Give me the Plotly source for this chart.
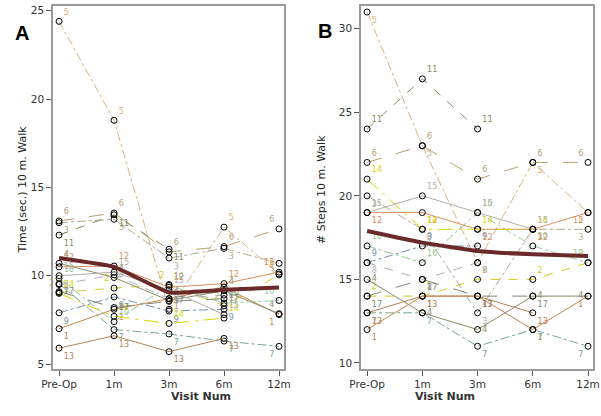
import plotly.graph_objects as go

visits = ["Pre-Op", "1m", "3m", "6m", "12m"]
patients = [1, 2, 3, 4, 5, 6, 7, 8, 9, 10, 11, 12, 13, 14, 15, 17]

# Panel A: Time (sec.) 10 m. walk, one list per visit, ordered as `patients`
time_pre = [7.0, 9.05, 13.0, 10.7, 24.4, 13.1, 9.55, 9.5, 7.9, 9.85, 12.3, 10.5, 5.9, 9.0, 10.0, 9.1]
time_1m = [8.1, 9.3, 13.2, 9.9, 18.8, 13.55, 6.95, 10.05, 8.8, 7.4, 13.45, 10.55, 6.6, 7.7, 10.2, 8.2]
time_3m = [8.7, 9.5, 11.0, 8.6, 8.1, 11.35, 6.7, 8.7, 8.0, 9.45, 11.5, 9.35, 5.7, 7.3, 9.2, 8.55]
time_6m = [9.35, 8.3, 11.55, 9.15, 12.75, 11.65, 6.3, 8.9, 8.1, 8.45, None, 9.55, 6.45, 7.6, 7.8, 8.7]
time_12m = [7.8, 10.05, 10.7, 7.85, 10.1, 12.65, 6.0, None, None, 8.6, None, 10.2, None, None, None, None]
time_mean = [11.0, 10.5, 9.05, 9.2, 9.33]

# Panel B: # steps 10 m. walk
steps_pre = [12, 14, 20, 15, 31, 22, 13, 16, 16, 17, 24, 19, 13, 21, 19, 14]
steps_1m = [14, 14, 18, 13, 23, 23, 13, 15, 17, 16, 27, 19, 14, 18, 20, 15]
steps_3m = [14, 15, 13, 12, 16, 21, 11, 16, 17, 19, 24, 18, 14, 18, 19, 14]
steps_6m = [12, 15, 18, 14, 22, 22, 12, None, None, 17, None, 18, 13, 18, 18, 14]
steps_12m = [14, 16, 18, 14, 19, 22, 11, None, None, 16, None, 19, None, None, None, None]
steps_mean = [17.9, 17.2, 16.7, 16.5, 16.4]

colors = {1: "#c8864a", 2: "#d4cc20", 3: "#b4aa90", 4: "#8a8a6a", 5: "#dcb080",
          6: "#b8a070", 7: "#78a890", 8: "#a8b0bc", 9: "#7890a8", 10: "#98c898",
          11: "#8a8a60", 12: "#d89060", 13: "#b88050", 14: "#d8d800", 15: "#b0b0a8",
          17: "#808878"}
dashes = {1: "solid", 2: "dash", 3: "dashdot", 4: "solid", 5: "dashdot", 6: "longdash",
          7: "dashdot", 8: "dash", 9: "dashdot", 10: "dashdot", 11: "dash", 12: "solid",
          13: "solid", 14: "longdashdot", 15: "solid", 17: "longdash"}
text_pos_a = {1: "bottom right", 2: "top left", 3: "bottom right", 4: "top right", 5: "top right",
              6: "top right", 7: "bottom right", 8: "middle right", 9: "bottom right", 10: "top right",
              11: "bottom right", 12: "top right", 13: "bottom right", 14: "top right", 15: "top right",
              17: "middle right"}
text_pos_b = {1: "bottom right", 2: "top right", 3: "bottom right", 4: "middle right", 5: "bottom right",
              6: "top right", 7: "bottom right", 8: "bottom right", 9: "top right", 10: "top right",
              11: "top right", 12: "bottom right", 13: "bottom right", 14: "top right", 15: "top right",
              17: "bottom right"}

x_idx = list(range(len(visits)))
fig = go.Figure()


def add_panel(cols, mean, xa, ya, pos):
    for i, p in enumerate(patients):
        ys = [c[i] for c in cols]
        xs = [x for x, y in zip(x_idx, ys) if y is not None]
        ys = [y for y in ys if y is not None]
        tp = [pos[p].replace("right", "left") if x == x_idx[-1] else pos[p] for x in xs]
        fig.add_trace(go.Scatter(
            x=xs, y=ys, xaxis=xa, yaxis=ya, mode="lines+markers+text",
            text=[str(p)] * len(xs), textposition=tp,
            textfont=dict(size=8, color=colors[p], family="DejaVu Sans"),
            line=dict(color=colors[p], width=1, dash=dashes[p]),
            marker=dict(symbol="circle-open", size=6, color="black", line=dict(width=1, color="black")),
            showlegend=False, cliponaxis=False))
    fig.add_trace(go.Scatter(x=x_idx, y=mean, xaxis=xa, yaxis=ya, mode="lines",
                             line=dict(color="#6b2a2a", width=4, shape="spline", smoothing=0.3),
                             showlegend=False))


add_panel([time_pre, time_1m, time_3m, time_6m, time_12m], time_mean, "x", "y", text_pos_a)
add_panel([steps_pre, steps_1m, steps_3m, steps_6m, steps_12m], steps_mean, "x2", "y2", text_pos_b)

axis_common = dict(showline=True, mirror=True, linecolor="#9a9a9a", linewidth=1.5,
                   ticks="outside", ticklen=5, tickcolor="#555", showgrid=False, zeroline=False,
                   automargin=False,
                   tickfont=dict(family="DejaVu Sans", size=10.5, color="#333"))
xcommon = dict(axis_common, tickmode="array", tickvals=x_idx, ticktext=visits, range=[-0.11, 4.09])

fig.update_layout(
    width=601, height=416, margin=dict(l=0, r=0, t=0, b=0),
    paper_bgcolor="white", plot_bgcolor="white",
    xaxis=dict(xcommon, domain=[0.0882, 0.4725], anchor="y"),
    yaxis=dict(axis_common, domain=[0.113, 0.986], anchor="x", range=[4.72, 25.28],
               tickvals=[5, 10, 15, 20, 25]),
    xaxis2=dict(xcommon, domain=[0.6007, 0.9867], anchor="y2"),
    yaxis2=dict(axis_common, domain=[0.113, 0.986], anchor="x2", range=[9.64, 31.37],
                tickvals=[10, 15, 20, 25, 30]),
    annotations=[
        dict(text="<b>A</b>", x=13, y=20, showarrow=False,
             font=dict(family="Liberation Sans", size=20, color="black")),
        dict(text="<b>B</b>", x=325, y=18, showarrow=False,
             font=dict(family="Liberation Sans", size=20, color="black")),
        dict(text="Time (sec.) 10 m. Walk", x=14, y=190, textangle=-90, showarrow=False,
             font=dict(family="DejaVu Sans", size=11, color="#222")),
        dict(text="# Steps 10 m. Walk", x=322, y=190, textangle=-90, showarrow=False,
             font=dict(family="DejaVu Sans", size=11, color="#222")),
        dict(text="<b>Visit Num</b>", x=169, y=405, showarrow=False,
             font=dict(family="DejaVu Sans", size=11, color="#333")),
        dict(text="<b>Visit Num</b>", x=477, y=405, showarrow=False,
             font=dict(family="DejaVu Sans", size=11, color="#333")),
    ],
)

# convert pixel positions of annotations into paper coordinates
for a in fig.layout.annotations:
    a.xref = "paper"
    a.yref = "paper"
    a.x = a.x / 601
    a.y = 1 - a.y / 416

fig.write_html("out.html", config={"displayModeBar": False},
               post_script="document.body.style.margin='0';document.body.style.overflow='hidden';")
